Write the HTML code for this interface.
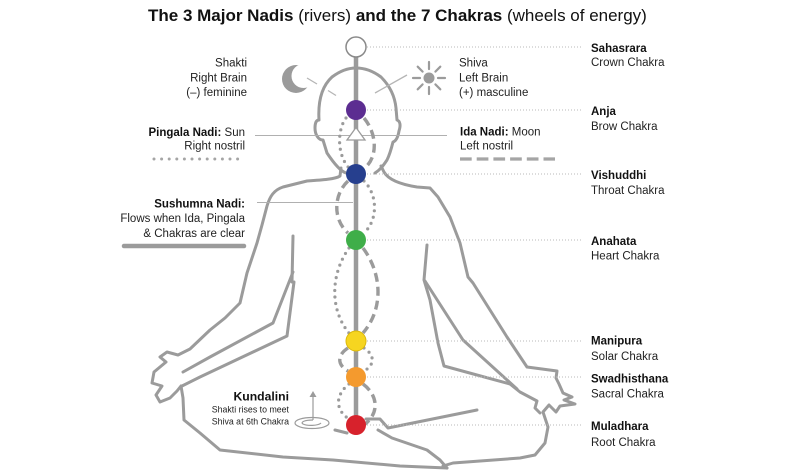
<!DOCTYPE html>
<html>
<head>
<meta charset="utf-8">
<style>
  html,body{margin:0;padding:0;background:#fff;}
  svg{display:block;}
  text{font-family:"Liberation Sans", Arial, sans-serif;}
</style>
</head>
<body>
<svg width="800" height="473" viewBox="0 0 800 473" xmlns="http://www.w3.org/2000/svg">
  <rect width="800" height="473" fill="#fff"/>

  <!-- Title -->
  <text x="148" y="21" font-size="17" fill="#111"><tspan font-weight="bold">The 3 Major Nadis</tspan> (rivers) <tspan font-weight="bold">and the 7 Chakras</tspan> (wheels of energy)</text>

  <!-- Body outline -->
  <g fill="none" stroke="#9b9b9b" stroke-width="3" stroke-linejoin="round" stroke-linecap="round">
    <!-- head -->
    <path d="M 346 173 C 340 171, 333 162, 327 153 L 323 140 C 318 140, 315 134, 315 128 C 315 123, 316 120, 319 120 C 318 103, 321 87, 332 77 C 340 71, 348 68, 356 68 C 364 68, 373 71, 381 77 C 391 87, 395 98, 396 108 L 397 120 C 400 121, 401 125, 399 131 C 398 137, 396 141, 393 142 C 391 150, 389 156, 387 160 C 383 166, 380 170, 375 173"/>
    <!-- left shoulder / arm / hand / leg -->
    <path d="M 341 168 L 340 176 C 336 179, 322 180, 307 181 L 283 187 C 274 190, 270 196, 267 206 L 262 225 L 257 243 L 247 273 L 240 303 L 225 318 L 210 330 L 190 349 L 178 355 L 167 352 L 160 357 L 166 362 L 154 372 L 152 383 L 162 386 L 156 395 L 160 402 L 170 398 L 177 391 L 181 386 L 183 398 L 184 420 L 200 433 L 220 450 L 283 457 L 333 460 L 400 466 L 447 468"/>
    <path d="M 293 236 L 292 282"/>
    <path d="M 293 272 L 273 323 L 210 357 L 183 372"/>
    <path d="M 294 282 L 287 336 L 200 377 L 182 386"/>
    <path d="M 335 430 L 347 433"/>
    <!-- right shoulder / arm / hand / leg -->
    <path d="M 381 166 L 384 172 C 388 179, 398 184, 417 187 L 430 188 L 438 197 L 450 217 L 460 243 L 468 277 L 473 283 L 490 310 L 507 337 L 527 367 L 557 371 L 556 378 L 559 384 L 563 393 L 572 397 L 564 400 L 575 404 L 560 406 L 556 412 L 549 405 L 543 412 L 548 427 L 545 443 L 535 455 L 520 458 L 453 463 L 443 466"/>
    <path d="M 427 245 L 424 280 L 430 300 L 438 343 L 444 366 L 510 384 L 520 392 L 537 401 L 535 408 L 540 413"/>
    <path d="M 425 281 L 463 340 L 517 389"/>
    <path d="M 366 419 L 380 419 L 388 428 L 477 410"/>
    <path d="M 378 430 L 392 438 L 427 450 L 440 460 L 447 468"/>
  </g>

  <!-- Moon -->
  <circle cx="296" cy="79" r="14" fill="#9b9b9b"/>
  <circle cx="303.5" cy="76" r="12" fill="#fff"/>
  <!-- Sun -->
  <g stroke="#9b9b9b" stroke-width="2.2" stroke-linecap="round">
    <line x1="438" y1="78" x2="445" y2="78"/>
    <line x1="420" y1="78" x2="413" y2="78"/>
    <line x1="429" y1="69" x2="429" y2="62"/>
    <line x1="429" y1="87" x2="429" y2="94"/>
    <line x1="435.4" y1="71.6" x2="440.3" y2="66.7"/>
    <line x1="422.6" y1="84.4" x2="417.7" y2="89.3"/>
    <line x1="435.4" y1="84.4" x2="440.3" y2="89.3"/>
    <line x1="422.6" y1="71.6" x2="417.7" y2="66.7"/>
  </g>
  <circle cx="429" cy="78" r="5.5" fill="#9b9b9b"/>

  <!-- light pointer lines -->
  <g stroke="#b5b5b5" stroke-width="1.3">
    <line x1="307" y1="78" x2="317" y2="84"/>
    <line x1="328" y1="90.5" x2="336" y2="95.5"/>
    <line x1="407" y1="75" x2="375" y2="93"/>
  </g>
  <g stroke="#b0b0b0" stroke-width="1.1">
    <line x1="255" y1="135.5" x2="447" y2="135.5"/>
    <line x1="257" y1="202.5" x2="353" y2="202.5"/>
  </g>

  <!-- Nadi samples -->
  <line x1="154" y1="159" x2="245" y2="159" stroke="#a5a5a5" stroke-width="3" stroke-linecap="round" stroke-dasharray="0 7.6"/>
  <line x1="460" y1="159" x2="555" y2="159" stroke="#a5a5a5" stroke-width="3.2" stroke-dasharray="11.7 5"/>
  <line x1="124" y1="246" x2="244" y2="246" stroke="#9b9b9b" stroke-width="4.5" stroke-linecap="round"/>

  <!-- Pingala (dotted) -->
  <g fill="none" stroke="#9b9b9b" stroke-width="3.2" stroke-linecap="round" stroke-dasharray="0 6.5">
    <path d="M 346 118 C 337 130, 337 155, 349 168"/>
    <path d="M 364 181 C 378 195, 378 220, 364 233"/>
    <path d="M 349 248 C 330 275, 330 310, 349 333"/>
    <path d="M 364 348 C 375 355, 375 365, 364 371"/>
    <path d="M 349 384 C 335 395, 335 410, 349 419"/>
  </g>
  <!-- Ida (dashed) -->
  <g fill="none" stroke="#9b9b9b" stroke-width="3.4" stroke-dasharray="9 5">
    <path d="M 364 118 C 378 135, 378 160, 362 170"/>
    <path d="M 348 181 C 333 195, 333 220, 348 233"/>
    <path d="M 363 248 C 383 275, 383 310, 363 333"/>
    <path d="M 348 348 C 337 355, 337 365, 348 371"/>
    <path d="M 363 384 C 379 396, 379 414, 364 425"/>
  </g>

  <!-- Spine (Sushumna) -->
  <line x1="356" y1="56" x2="356" y2="425" stroke="#9b9b9b" stroke-width="4.5"/>
  <!-- triangle -->
  <polygon points="356,127.5 347,140 365,140" fill="#fff" stroke="#9b9b9b" stroke-width="1.3"/>

  <!-- Kundalini spiral + arrow -->
  <g fill="none" stroke="#9b9b9b" stroke-width="1.2">
    <ellipse cx="312" cy="423" rx="17" ry="5.5"/>
    <path d="M 313 420 C 305 420, 300 422, 303 424 C 307 426, 318 426, 321 423"/>
    <line x1="313" y1="420" x2="313" y2="394"/>
  </g>
  <polygon points="313,391 309.5,397 316.5,397" fill="#9b9b9b"/>

  <!-- dotted connectors to right labels -->
  <g stroke="#b8b8b8" stroke-width="1" stroke-dasharray="1 2">
    <line x1="367" y1="47" x2="583" y2="47"/>
    <line x1="367" y1="110" x2="583" y2="110"/>
    <line x1="367" y1="174" x2="583" y2="174"/>
    <line x1="367" y1="240" x2="583" y2="240"/>
    <line x1="367" y1="341" x2="583" y2="341"/>
    <line x1="367" y1="377" x2="583" y2="377"/>
    <line x1="367" y1="425" x2="583" y2="425"/>
  </g>

  <!-- Chakras -->
  <circle cx="356" cy="47" r="10" fill="#fff" stroke="#8a8a8a" stroke-width="1.5"/>
  <circle cx="356" cy="110" r="10" fill="#5c2d91"/>
  <circle cx="356" cy="174" r="10" fill="#263f8e"/>
  <circle cx="356" cy="240" r="10" fill="#3fae49"/>
  <circle cx="356" cy="341" r="10" fill="#f6d520" stroke="#dcb80a" stroke-width="1"/>
  <circle cx="356" cy="377" r="10" fill="#f49a2e"/>
  <circle cx="356" cy="425" r="10" fill="#d7222c"/>

  <!-- Right labels -->
  <g font-size="11.5" fill="#222">
    <text x="591" y="52" font-weight="bold" fill="#111">Sahasrara</text>
    <text x="591" y="66">Crown Chakra</text>
    <text x="591" y="115" font-weight="bold" fill="#111">Anja</text>
    <text x="591" y="130">Brow Chakra</text>
    <text x="591" y="179" font-weight="bold" fill="#111">Vishuddhi</text>
    <text x="591" y="194">Throat Chakra</text>
    <text x="591" y="245" font-weight="bold" fill="#111">Anahata</text>
    <text x="591" y="259.5">Heart Chakra</text>
    <text x="591" y="344.5" font-weight="bold" fill="#111">Manipura</text>
    <text x="591" y="360">Solar Chakra</text>
    <text x="591" y="382.5" font-weight="bold" fill="#111">Swadhisthana</text>
    <text x="591" y="397.5">Sacral Chakra</text>
    <text x="591" y="430" font-weight="bold" fill="#111">Muladhara</text>
    <text x="591" y="446">Root Chakra</text>
  </g>

  <!-- Left / upper labels -->
  <g font-size="11.5" fill="#222">
    <text x="247" y="66.5" text-anchor="end">Shakti</text>
    <text x="247" y="81.5" text-anchor="end">Right Brain</text>
    <text x="247" y="96" text-anchor="end">(–) feminine</text>

    <text x="459" y="66.5">Shiva</text>
    <text x="459" y="81.5">Left Brain</text>
    <text x="459" y="96">(+) masculine</text>

    <text x="245" y="136" text-anchor="end"><tspan font-weight="bold" fill="#111">Pingala Nadi:</tspan> Sun</text>
    <text x="245" y="149.5" text-anchor="end">Right nostril</text>

    <text x="460" y="135.5"><tspan font-weight="bold" fill="#111">Ida Nadi:</tspan> Moon</text>
    <text x="460" y="149.5">Left nostril</text>

    <text x="245" y="207.5" text-anchor="end" font-weight="bold" fill="#111">Sushumna Nadi:</text>
    <text x="245" y="222" text-anchor="end">Flows when Ida, Pingala</text>
    <text x="245" y="237" text-anchor="end">&amp; Chakras are clear</text>
  </g>

  <!-- Kundalini -->
  <text x="289" y="400.5" text-anchor="end" font-size="12.2" font-weight="bold" fill="#111">Kundalini</text>
  <text x="289" y="412.5" text-anchor="end" font-size="8.8" fill="#222">Shakti rises to meet</text>
  <text x="289" y="424.5" text-anchor="end" font-size="8.8" fill="#222">Shiva at 6th Chakra</text>
</svg>
</body>
</html>
